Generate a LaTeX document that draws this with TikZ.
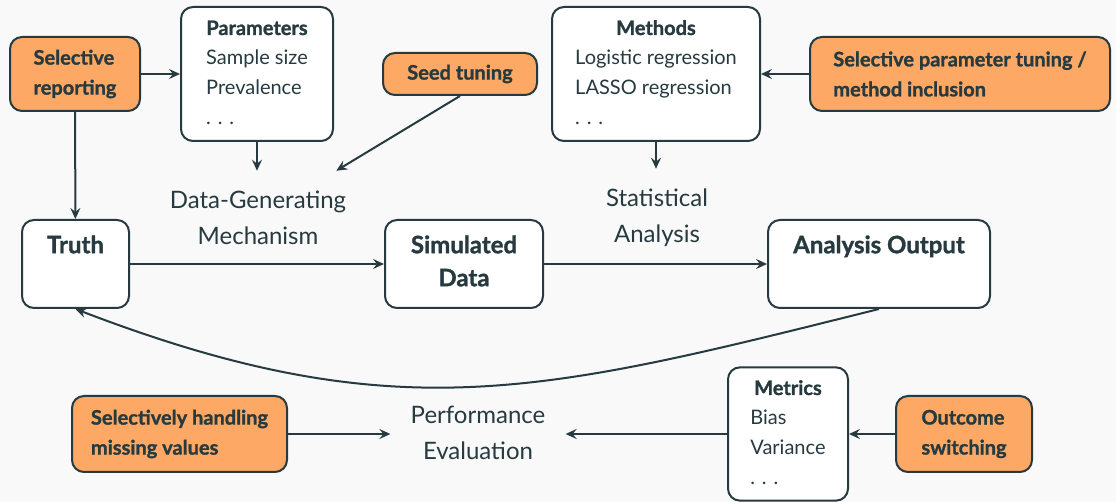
\documentclass[tikz,border=0pt]{standalone}
\usepackage{fontspec}
\setmainfont{Lato}[BoldFeatures={FakeBold=1.2}]
\usetikzlibrary{arrows.meta,positioning}
\definecolor{ink}{HTML}{263A3F}
\definecolor{bgcol}{HTML}{F9F9F9}
\definecolor{flag}{HTML}{FDA864}

\begin{document}
\begin{tikzpicture}[
  x=0.5pt, y=-0.5pt,
  every node/.style={text=ink},
  box/.style={draw=ink, line width=1pt, rounded corners=6pt, fill=white, align=left, font=\fontsize{10}{15}\selectfont},
  flagbox/.style={box, fill=flag, minimum height=37pt, font=\fontsize{10}{15}\selectfont\bfseries},
  stage/.style={draw=ink, line width=1pt, rounded corners=6pt, fill=white, minimum height=44pt},
  stagetxt/.style={anchor=north, yshift=-8pt, inner sep=0pt, align=center, font=\fontsize{12}{16.5}\selectfont\bfseries},
  proc/.style={align=center, inner sep=10pt, font=\fontsize{12}{18}\selectfont},
  arr/.style={draw=ink, line width=1pt, -{Stealth[length=5.5pt, width=5pt, inset=2pt]}}
]
\fill[bgcol] (0,0) rectangle (1116,502);

% top row
\node[flagbox, minimum width=65pt] (sr) at (75,74) {Selective\\reporting};
\node[box, minimum width=76pt, minimum height=67pt] (params) at (257,74)
  {\begin{tabular}{@{}l@{}}\multicolumn{1}{@{}c@{}}{\bfseries Parameters}\\Sample size\\Prevalence\\. . .\end{tabular}};
\node[flagbox, minimum width=77pt, minimum height=21pt] (seed) at (460,74) {Seed tuning};
\node[box, minimum width=104pt, minimum height=67pt] (methods) at (656,74)
  {\begin{tabular}{@{}l@{}}\multicolumn{1}{@{}c@{}}{\bfseries Methods}\\Logistic regression\\LASSO regression\\. . .\end{tabular}};
\node[flagbox, minimum width=150pt] (spt) at (960,74) {Selective parameter tuning /\\method inclusion};

% pipeline
\node[proc] (dgm) at (258,218) {Data-Generating\\Mechanism};
\node[proc] (sa) at (657,218) {Statistical\\Analysis};
\node[stage, minimum width=53.5pt, label={[stagetxt]north:Truth}] (truth) at (75.5,264) {};
\node[stage, minimum width=79pt, label={[stagetxt]north:Simulated\\Data}] (sim) at (464,264) {};
\node[stage, minimum width=111pt, label={[stagetxt]north:Analysis Output}] (aout) at (879,264) {};

% bottom row
\node[flagbox, minimum width=107.5pt, minimum height=38pt] (shmv) at (179.5,434) {Selectively handling\\missing values};
\node[proc] (perf) at (478,433) {Performance\\Evaluation};
\node[box, minimum width=60pt, minimum height=66.5pt] (metrics) at (788,434)
  {\begin{tabular}{@{}l@{}}\multicolumn{1}{@{}c@{}}{\bfseries Metrics}\\Bias\\Variance\\. . .\end{tabular}};
\node[flagbox, minimum width=68pt, minimum height=38pt] (outcome) at (964,434) {Outcome\\switching};

\draw[arr] (sr) -- (params);
\draw[arr] (params.south) -- (params.south |- dgm.north);
\draw[arr] (seed.south) -- (dgm);
\draw[arr] (spt) -- (methods);
\draw[arr] (methods.south) -- (methods.south |- sa.north);
\draw[arr] (sr) -- (truth);
\draw[arr] (truth) -- (sim);
\draw[arr] (sim) -- (aout);
\draw[arr] (aout.south) to[out=-166, in=-21, looseness=1.1] (truth.south);
\draw[arr] (shmv.east) -- (shmv.east -| perf.west);
\draw[arr] (metrics.west) -- (metrics.west -| perf.east);
\draw[arr] (outcome) -- (metrics);
\end{tikzpicture}
\end{document}
